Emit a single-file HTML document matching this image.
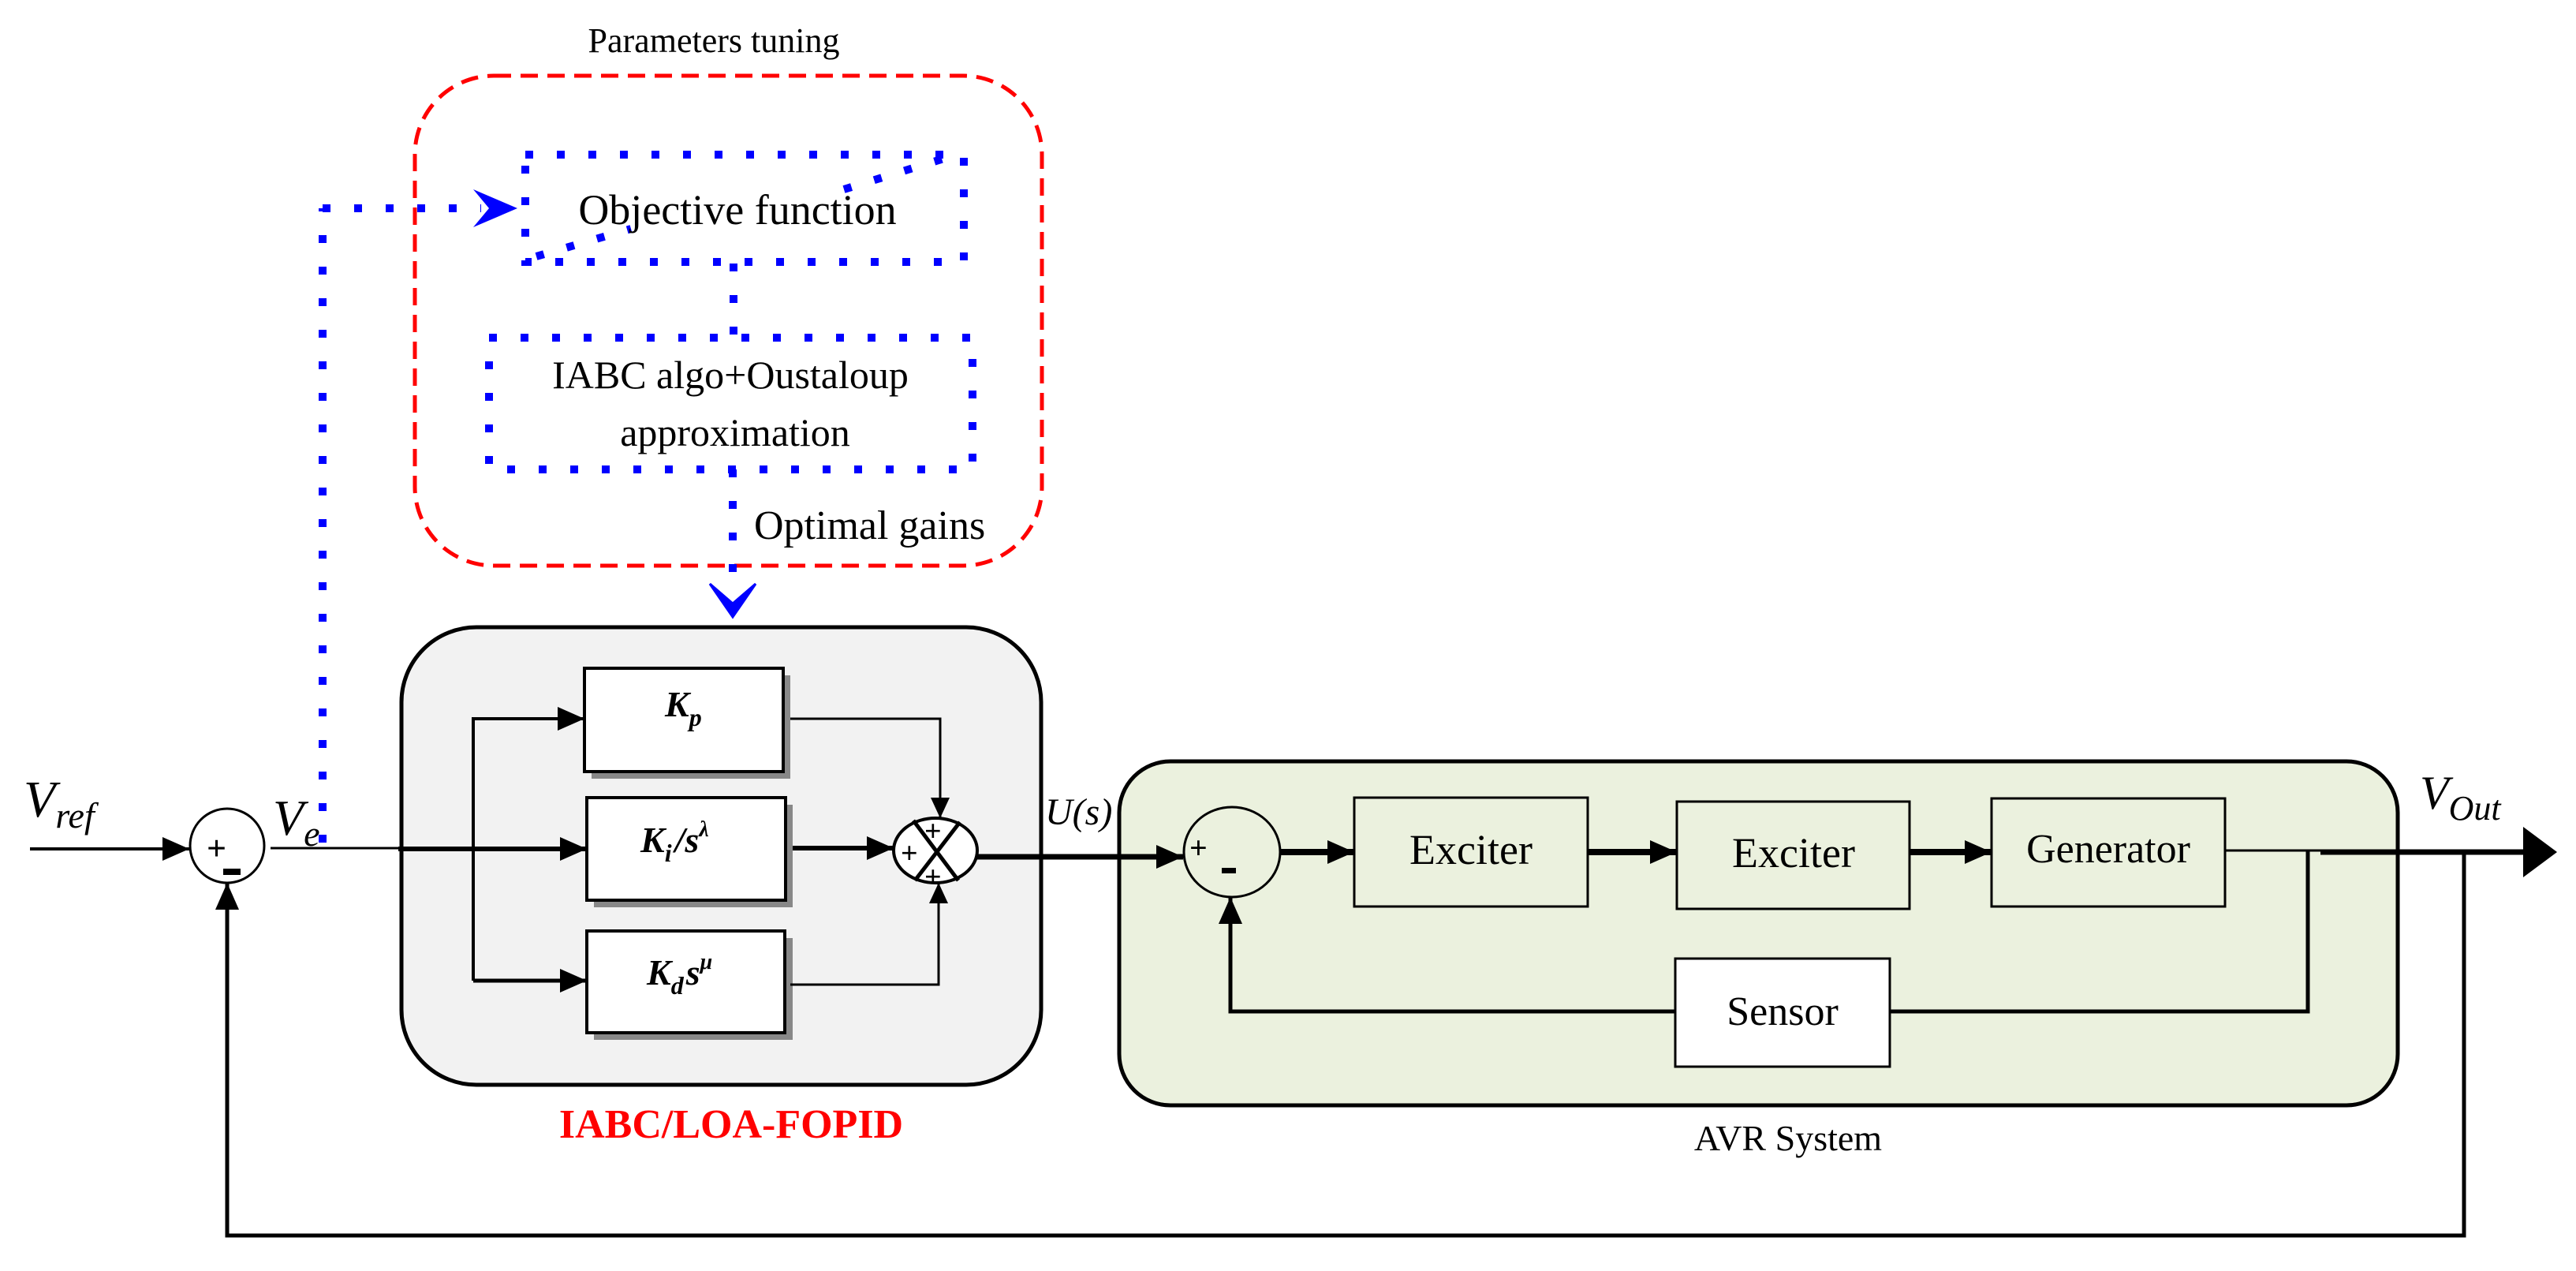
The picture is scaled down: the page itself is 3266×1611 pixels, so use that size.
<!DOCTYPE html>
<html><head><meta charset="utf-8"><style>
html,body{margin:0;padding:0;background:#fff}
svg{display:block}
text{font-family:"Liberation Serif",serif}
</style></head><body>
<svg width="3266" height="1611" viewBox="0 0 3266 1611" xmlns="http://www.w3.org/2000/svg">
<defs>
<marker id="ah" markerWidth="34" markerHeight="30" refX="10" refY="5" orient="auto" markerUnits="userSpaceOnUse" viewBox="0 0 10 10" preserveAspectRatio="none"><path d="M0,0 L10,5 L0,10z" fill="#000"/></marker>
<marker id="as" markerWidth="26" markerHeight="24" refX="10" refY="5" orient="auto" markerUnits="userSpaceOnUse" viewBox="0 0 10 10" preserveAspectRatio="none"><path d="M0,0 L10,5 L0,10z" fill="#000"/></marker>
</defs>
<!-- Parameters tuning -->
<text x="905" y="66" font-size="44" text-anchor="middle">Parameters tuning</text>
<rect x="526" y="96" width="795" height="621" rx="100" ry="100" fill="none" stroke="#f00" stroke-width="5" stroke-dasharray="22 12"/>
<g fill="none" stroke="#00f" stroke-width="10" stroke-dasharray="10 30">
<rect x="666" y="196" width="556" height="136"/>
<line x1="680" y1="325" x2="800" y2="290"/>
<line x1="1070" y1="240" x2="1200" y2="200"/>
<rect x="620" y="428" width="613" height="167"/>
<line x1="930" y1="334" x2="930" y2="428"/>
<line x1="929" y1="595" x2="929" y2="740"/>
<line x1="409" y1="1068" x2="409" y2="264"/>
<line x1="409" y1="264" x2="610" y2="264"/>
</g>
<path d="M600,240 L656,264 L600,288 L620,264z" fill="#00f"/>
<path d="M900,740 L929,782 L958,740 L929,765z" fill="#00f" stroke="#00f" stroke-width="3"/>
<text x="935" y="284" font-size="54" text-anchor="middle">Objective function</text>
<text x="926" y="492" font-size="50" text-anchor="middle">IABC algo+Oustaloup</text>
<text x="932" y="565" font-size="50" text-anchor="middle">approximation</text>
<text x="956" y="683" font-size="52">Optimal gains</text>

<!-- FOPID box -->
<rect x="509" y="795" width="811" height="580" rx="95" ry="95" fill="#f2f2f2" stroke="#000" stroke-width="5"/>
<text x="927" y="1442" font-size="52" font-weight="bold" fill="#f00" text-anchor="middle">IABC/LOA-FOPID</text>
<g>
<rect x="750" y="856" width="252" height="131" fill="#888"/>
<rect x="741" y="847" width="252" height="131" fill="#fff" stroke="#000" stroke-width="4"/>
<rect x="753" y="1020" width="252" height="130" fill="#888"/>
<rect x="744" y="1011" width="252" height="130" fill="#fff" stroke="#000" stroke-width="4"/>
<rect x="753" y="1189" width="252" height="129" fill="#888"/>
<rect x="744" y="1180" width="251" height="129" fill="#fff" stroke="#000" stroke-width="4"/>
</g>
<text x="843" y="908" font-size="46" font-style="italic" font-weight="bold">K<tspan font-size="32" dy="12">p</tspan></text>
<text x="812" y="1080" font-size="46" font-style="italic" font-weight="bold">K<tspan font-size="32" dy="12">i</tspan><tspan dy="-12" dx="4">/s</tspan><tspan font-size="28" dy="-20">λ</tspan></text>
<text x="820" y="1248" font-size="46" font-style="italic" font-weight="bold">K<tspan font-size="32" dy="12">d</tspan><tspan dy="-12" dx="3">s</tspan><tspan font-size="28" dy="-20">μ</tspan></text>

<!-- summing junction 1 -->
<ellipse cx="288" cy="1072" rx="47" ry="47" fill="#fff" stroke="#000" stroke-width="3"/>
<text x="262" y="1090" font-size="44" font-weight="bold" font-family="Liberation Sans">+</text>
<rect x="283" y="1101" width="22" height="8" fill="#000"/>
<line x1="38" y1="1076" x2="240" y2="1076" stroke="#000" stroke-width="4" marker-end="url(#ah)"/>
<text x="30" y="1035" font-size="66" font-style="italic">V<tspan font-size="46" dy="14">ref</tspan></text>
<text x="346" y="1058" font-size="64" font-style="italic">V<tspan font-size="46" dy="14">e</tspan></text>
<line x1="343" y1="1075" x2="505" y2="1075" stroke="#000" stroke-width="3"/>
<line x1="505" y1="1076" x2="744" y2="1076" stroke="#000" stroke-width="6" marker-end="url(#ah)"/>
<polyline points="600,1243 600,911 741,911" fill="none" stroke="#000" stroke-width="4" marker-end="url(#ah)"/>
<line x1="600" y1="1243" x2="744" y2="1243" stroke="#000" stroke-width="5" marker-end="url(#ah)"/>
<polyline points="1002,911 1192,911 1192,1037" fill="none" stroke="#000" stroke-width="3" marker-end="url(#as)"/>
<line x1="1005" y1="1075" x2="1133" y2="1075" stroke="#000" stroke-width="6" marker-end="url(#ah)"/>
<polyline points="1002,1248 1190,1248 1190,1119" fill="none" stroke="#000" stroke-width="3" marker-end="url(#as)"/>
<!-- summing junction 2 -->
<ellipse cx="1186" cy="1078" rx="53" ry="41" fill="#fff" stroke="#000" stroke-width="4"/>
<line x1="1158" y1="1040" x2="1215" y2="1116" stroke="#000" stroke-width="5"/>
<line x1="1217" y1="1042" x2="1160" y2="1116" stroke="#000" stroke-width="5"/>
<text x="1172" y="1066" font-size="38" font-weight="bold" font-family="Liberation Sans">+</text>
<text x="1142" y="1094" font-size="38" font-weight="bold" font-family="Liberation Sans">+</text>
<text x="1172" y="1124" font-size="38" font-weight="bold" font-family="Liberation Sans">+</text>
<text x="1325" y="1045" font-size="48" font-style="italic">U(s)</text>

<!-- AVR box -->
<rect x="1419" y="965" width="1621" height="436" rx="65" ry="65" fill="#ebf1de" stroke="#000" stroke-width="5"/>
<line x1="1239" y1="1086" x2="1500" y2="1086" stroke="#000" stroke-width="7" marker-end="url(#ah)"/>
<ellipse cx="1562" cy="1080" rx="61" ry="57" fill="#ebf1de" stroke="#000" stroke-width="3"/>
<text x="1508" y="1088" font-size="40" font-weight="bold" font-family="Liberation Sans">+</text>
<rect x="1549" y="1100" width="18" height="7" fill="#000"/>
<rect x="1717" y="1011" width="296" height="138" fill="#ebf1de" stroke="#000" stroke-width="3"/>
<rect x="2126" y="1016" width="295" height="136" fill="#ebf1de" stroke="#000" stroke-width="3"/>
<rect x="2525" y="1012" width="296" height="137" fill="#ebf1de" stroke="#000" stroke-width="3"/>
<rect x="2124" y="1215" width="272" height="137" fill="#fff" stroke="#000" stroke-width="3"/>
<text x="1865" y="1095" font-size="54" text-anchor="middle">Exciter</text>
<text x="2274" y="1099" font-size="54" text-anchor="middle">Exciter</text>
<text x="2673" y="1093" font-size="52" text-anchor="middle">Generator</text>
<text x="2260" y="1299" font-size="52" text-anchor="middle">Sensor</text>
<text x="2267" y="1458" font-size="46" text-anchor="middle">AVR System</text>
<line x1="1623" y1="1080" x2="1717" y2="1080" stroke="#000" stroke-width="8" marker-end="url(#ah)"/>
<line x1="2013" y1="1080" x2="2126" y2="1080" stroke="#000" stroke-width="8" marker-end="url(#ah)"/>
<line x1="2421" y1="1080" x2="2525" y2="1080" stroke="#000" stroke-width="8" marker-end="url(#ah)"/>
<line x1="2821" y1="1078" x2="2942" y2="1078" stroke="#000" stroke-width="3"/>
<line x1="2942" y1="1080" x2="3200" y2="1080" stroke="#000" stroke-width="7"/>
<path d="M3199,1048 L3242,1080 L3199,1112z" fill="#000"/>
<text x="3068" y="1025" font-size="60" font-style="italic">V<tspan font-size="44" dy="14">Out</tspan></text>
<polyline points="2926,1078 2926,1282 2396,1282" fill="none" stroke="#000" stroke-width="5"/>
<polyline points="2124,1282 1560,1282 1560,1137" fill="none" stroke="#000" stroke-width="5" marker-end="url(#ah)"/>
<polyline points="3124,1080 3124,1566 288,1566 288,1119" fill="none" stroke="#000" stroke-width="5" marker-end="url(#ah)"/>
</svg>
</body></html>
